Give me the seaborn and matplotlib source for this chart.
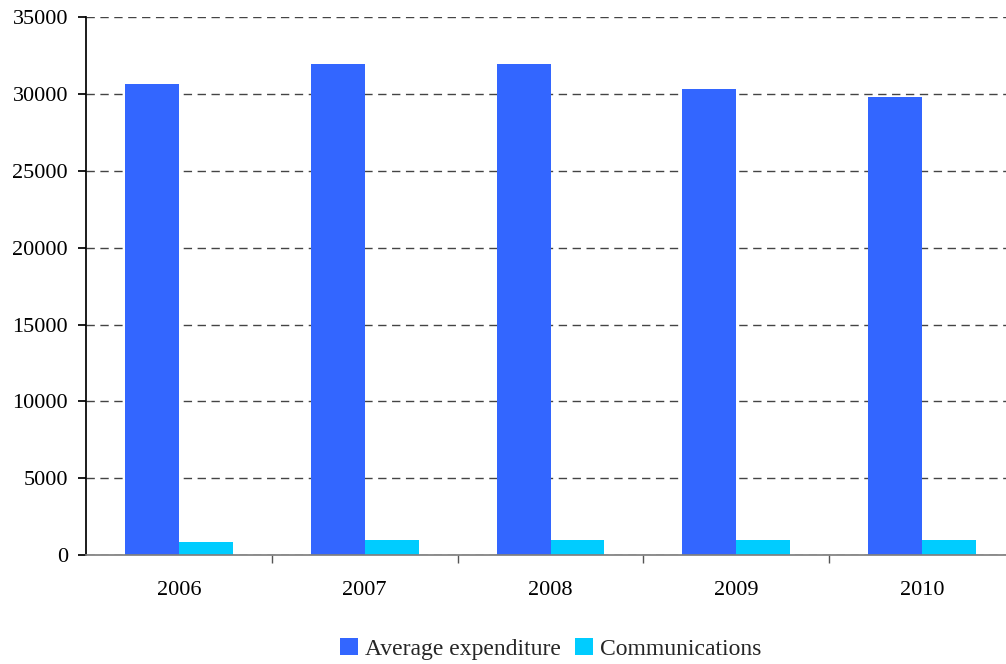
import pandas as pd
import matplotlib.pyplot as plt
import seaborn as sns
import numpy as np

years = ['2006', '2007', '2008', '2009', '2010']
avg_expenditure = [30650, 31950, 31950, 30300, 29800]
communications = [850, 980, 980, 980, 980]
series_names = ['Average expenditure', 'Communications']
colors = ['#3366FF', '#00CCFF']

df = pd.DataFrame({
    'year': years * 2,
    'value': avg_expenditure + communications,
    'series': [series_names[0]] * len(years) + [series_names[1]] * len(years),
})

sns.set_theme(style="white")
plt.rcParams['font.family'] = ['Liberation Serif', 'DejaVu Serif']

fig = plt.figure(figsize=(10.06, 6.64), dpi=100)
ax = fig.add_axes([0.0855, 0.1642, 0.9235, 0.8098])

sns.barplot(data=df, x='year', y='value', hue='series', palette=colors,
            width=0.58, saturation=1, linewidth=0, ax=ax, legend=True)

ax.set_ylim(0, 35000)
ax.set_xlim(-0.5, 4.5)
ax.set_yticks(np.arange(0, 35001, 5000))
ax.set_xlabel('')
ax.set_ylabel('')
ax.yaxis.grid(True, linestyle=(0, (6, 4)), color='#444444', linewidth=1)
ax.set_axisbelow(True)

for s in ['top', 'right']:
    ax.spines[s].set_visible(False)
ax.spines['left'].set_color('black')
ax.spines['bottom'].set_color('#808080')

ax.tick_params(axis='y', left=True, length=6, color='black', labelsize=16,
               labelcolor='black', pad=7)
ax.tick_params(axis='x', bottom=False, labelsize=16, labelcolor='black', pad=13)
ax.set_xticks(np.arange(0.5, 4.5, 1), minor=True)
ax.tick_params(axis='x', which='minor', bottom=True, length=6, color='#555555')

ax.legend(loc='center', bbox_to_anchor=(0.5, -0.175), ncol=2, frameon=False,
          fontsize=17, handlelength=0.75, handleheight=0.75, handletextpad=0.3,
          columnspacing=0.6)

plt.savefig('out.png', dpi=100)
